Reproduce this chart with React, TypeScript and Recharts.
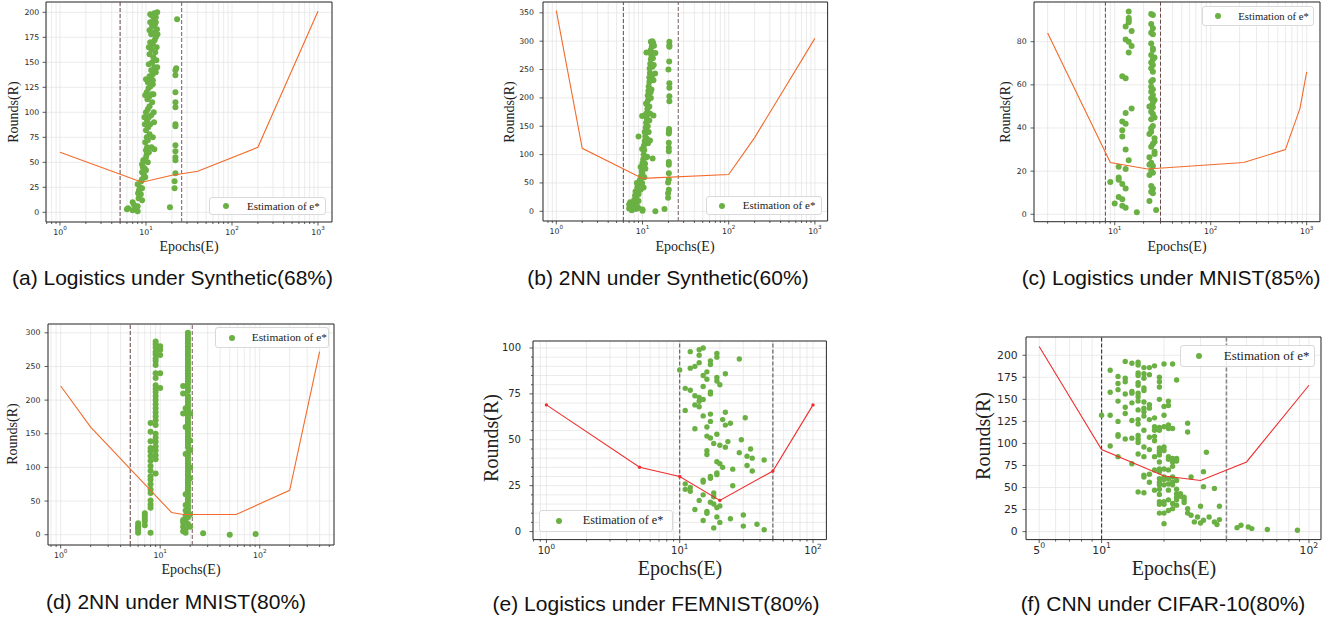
import React from 'react';
import { ComposedChart, Scatter, XAxis, YAxis, CartesianGrid, ReferenceLine, ReferenceArea } from 'recharts';

type Pair = [number, number];

// ---------------- data ----------------
// (a) Logistics under Synthetic(68%)
const aLineE = [1, 9, 20, 40, 200, 1000];
const aLineR = [60, 30, 37, 41, 65, 201];
const aBounds = [5, 26];
const aDots: Pair[] = [
  [6, 3], [6.2, 4], [7, 10], [7, 2], [7.3, 7], [7.6, 5], [8, 1], [8, 6], [8.1, 19], [8.2, 14], [8.3, 22], [8, 28],
  [8.5, 25], [8.7, 18], [8.8, 31], [9, 12], [9, 24], [9, 33], [9, 40], [9.2, 45], [9, 48], [9.5, 37], [9.3, 52],
  [9.6, 44], [9.8, 35], [10, 42], [10, 55], [10.2, 58], [10, 62], [10.5, 50], [10.3, 65], [10.8, 60], [9.8, 70],
  [10.2, 75], [10.5, 72], [11, 78], [10, 82], [10.6, 85], [11.2, 88], [10.3, 92], [10.8, 95], [11.5, 97], [10, 100],
  [10.5, 103], [11, 106], [11.8, 110], [10.4, 113], [11, 116], [11.6, 118], [10.2, 120], [10.7, 124], [11.3, 126],
  [12, 128], [10.5, 130], [11.5, 133], [10, 133], [12.3, 100], [12.4, 90], [12, 75], [11.6, 65], [9.6, 95], [9.7, 88],
  [9.8, 117], [12.2, 118], [12.5, 63], [11, 136], [12, 138], [13, 140], [11.5, 142], [12.5, 145], [10.8, 148],
  [11.8, 150], [13.2, 152], [12.2, 155], [11, 158], [12.8, 160], [11.5, 163], [13.3, 165], [12, 168], [11.2, 170],
  [12.6, 172], [13, 175], [11.5, 178], [12.2, 180], [13.4, 183], [11.8, 186], [12.7, 188], [11.2, 190], [12.3, 193],
  [13, 195], [11.6, 197], [12.5, 199], [13.5, 200], [11, 182], [13.5, 145], [10.8, 165], [13.6, 178], [12, 132],
  [11.2, 198], [13, 190],
  [23, 193], [22.5, 144], [22, 142], [22, 137], [22, 120], [22, 110], [22, 105], [22, 88], [22, 86], [22, 67],
  [22, 61], [22, 55], [22, 52], [22, 39], [21.5, 31], [21.5, 24], [19, 5],
];

// (b) 2NN under Synthetic(60%)
const bLineE = [1, 2, 10, 100, 200, 1000];
const bLineR = [354, 111, 58, 65, 130, 305];
const bBounds = [6, 26];
const bDots: Pair[] = [
  [7, 5], [7, 12], [7.2, 16], [7.5, 2], [7.8, 8], [8, 14], [8, 20], [8.2, 28], [8.4, 4], [8.3, 35], [8.5, 24],
  [8.7, 42], [8.6, 10], [9, 6], [9, 18], [9, 30], [9.2, 48], [9.3, 55], [9.5, 38], [9.6, 62], [9.8, 70], [9.5, 78],
  [10, 3], [10, 85], [10, 66], [10.2, 92], [10.3, 100], [10.5, 108], [10.4, 116], [10.6, 124], [10.8, 132],
  [10.6, 140], [10.9, 148], [11, 156], [11.2, 164], [11, 172], [11.4, 180], [11.3, 188], [11.6, 196], [11.5, 204],
  [11.7, 212], [11.8, 220], [12, 228], [12, 236], [12.2, 244], [12.1, 252], [12.3, 260], [12.5, 268], [12.6, 276],
  [12.4, 284], [12.8, 290], [12.9, 296], [12.5, 299], [13.3, 297], [13.6, 292], [13, 300], [9.9, 110], [10.7, 84],
  [11.3, 96], [11.6, 120], [11.8, 140], [12, 160], [12.3, 172], [12.5, 200], [12.7, 215], [12.9, 235], [13, 255],
  [13.2, 270], [11, 95], [11.5, 150], [12, 185], [12.4, 210], [12.9, 280], [13.5, 258], [10.5, 60], [10.8, 75],
  [11.2, 128], [10.3, 42], [9.9, 50], [11, 190], [12.2, 125], [12.6, 240],
  [9, 132], [9.9, 168], [13.4, 169], [14.1, 279], [13.4, 231], [14, 243], [13.1, 93], [8.6, 50], [10, 1], [14.1, 0],
  [18, 4], [11.1, 280],
  [20.5, 299], [20.5, 293], [20.5, 290], [20.4, 264], [20, 250], [20.5, 226], [20.5, 218], [20.5, 203], [20.5, 194],
  [20.3, 145], [20.3, 141], [20.2, 137], [20.2, 121], [20.2, 112], [20.2, 106], [20.2, 87], [20.2, 82], [20.2, 67],
  [20.2, 56], [19.8, 51], [20.2, 38], [19.8, 32], [19.8, 24],
];

// (c) Logistics under MNIST(85%)
const cLineE = [2, 9, 22, 220, 600, 850, 1000];
const cLineR = [84, 24, 21, 24, 30, 49, 66];
const cBounds = [8, 30];
const cDots: Pair[] = [
  [14, 94], [14, 91], [14, 90], [14, 89], [13, 87], [15, 85], [13, 81], [14, 80], [15, 78], [14, 75], [12, 64],
  [13, 63], [13, 47], [15, 49], [12, 43], [13, 42], [12, 39], [12, 36], [13, 30], [14, 25], [11, 22], [13, 21],
  [9, 15], [11, 17], [11, 16], [12, 14], [13, 12], [11, 8], [12, 7], [10, 5], [12, 4], [13, 3], [17, 1],
  [24, 92.8], [25, 92.4], [24, 88.2], [25, 86.2], [24, 84.2], [25, 83.4], [24, 79.2], [25, 76.9], [25, 76.1],
  [24, 73.8], [26, 72.7], [25, 71.8], [24, 70.3], [25, 69.2], [24, 67.7], [25, 66.1], [25, 62.2], [24, 61.5],
  [24, 59.1], [25, 57.9], [24, 56.8], [25, 55.3], [24, 53.8], [26, 53], [23, 50], [25, 51.7], [24, 50.2],
  [25, 49.6], [24, 47.5], [25, 46.5], [26, 44.9], [24, 44], [25, 40.9], [24, 39.9], [23, 37.2], [24, 38.3],
  [26, 35.2], [26, 33.6], [25, 32.6], [24, 31.3], [26, 29], [26, 27.9], [23, 26.4], [24, 23.9], [25, 22.4],
  [23, 23], [24, 20.2], [23, 18.2], [25, 19.3], [24, 13.1], [25, 12], [24, 10.5], [25, 9.7], [23, 6.2], [27, 2],
];

// (d) 2NN under MNIST(80%)
const dLineE = [1, 2, 13, 17, 58, 200, 400];
const dLineR = [221, 160, 33, 30, 30, 66, 272];
const dBounds = [5, 21];
const dDots: Pair[] = [
  [6, 17], [6, 13], [6, 10], [6, 7], [6, 3],
  [7, 32], [7, 28], [7, 24], [7, 20], [7, 14],
  [8, 166], [8, 153], [8, 139], [8, 129], [8, 124], [8, 117], [8, 110], [8, 102], [8, 95], [8, 87], [8, 82],
  [8, 75], [8, 67], [8, 62], [8, 51], [8, 45], [8, 40], [8, 3],
  [9, 287], [9, 283], [9, 278], [9, 272], [9, 268], [9, 262], [9, 258], [9, 252], [9, 240], [9, 233], [9, 222],
  [9, 217], [9, 212], [9, 206], [9, 200], [9, 194], [9, 188], [9, 182], [9, 176], [9, 170], [9, 163], [9, 150],
  [9, 144], [9, 138], [9, 131], [9, 125], [9, 118], [9, 112], [9, 91],
  [10, 280], [10, 275], [10, 267], [10, 240], [10, 218],
  [19, 300], [19, 296], [19, 292], [19, 288], [19, 284], [19, 280], [19, 276], [19, 272], [19, 268], [19, 264],
  [19, 260], [19, 256], [19, 252], [19, 248], [19, 244], [19, 240], [19, 236], [19, 232], [19, 228], [19, 224],
  [17, 221], [19, 218], [19, 214], [17, 210], [19, 206], [19, 202], [19, 198], [19, 194], [19, 190], [18, 188],
  [19, 186], [19, 182], [17, 180], [19, 178], [19, 174], [19, 170], [19, 166], [19, 162], [18, 160], [19, 158],
  [19, 154], [19, 150], [19, 146], [19, 142], [19, 138], [19, 134], [19, 130], [20, 126], [19, 122], [19, 118],
  [19, 114], [19, 110], [19, 106], [19, 102], [19, 98], [19, 94], [19, 90], [20, 84], [19, 86], [19, 82], [19, 78],
  [19, 74], [19, 70], [19, 66], [19, 62], [19, 58], [19, 54], [19, 50], [19, 46], [18, 44], [19, 42], [19, 38],
  [18, 36], [19, 34], [19, 30], [18, 28], [19, 26], [17, 22], [18, 20], [17, 18], [19, 16], [17, 12], [18, 8],
  [17, 5], [18, 3], [20, 100], [20, 180], [20, 140], [18, 120], [18, 60], [20, 30], [20, 12],
  [27, 2], [50, 0], [91, 1],
];

// (e) Logistics under FEMNIST(80%)
const eLineE = [1, 5, 10, 20, 50, 100];
const eLineR = [69, 35, 30, 17, 33, 69];
const eBounds = [10, 50];
const eDots: Pair[] = [
  [10, 88], [12, 98], [14, 99], [15, 100], [14, 96], [13, 90], [14, 92], [12, 89], [17, 93], [19, 97], [19, 95],
  [17, 91], [28, 94], [15, 85], [16, 87], [16, 83], [19, 84], [19, 82], [20, 80], [22, 86], [15, 79], [11, 78],
  [12, 77], [17, 76], [17, 75], [13, 74], [14, 73], [14, 71], [15, 72], [14, 68], [13, 69], [11, 66], [22, 65],
  [17, 64], [15, 63], [31, 62], [21, 61], [17, 60], [24, 59], [22, 58], [13, 56], [16, 57], [19, 53], [16, 52],
  [17, 51], [29, 50], [23, 49], [18, 48], [20, 47], [22, 46], [34, 45], [28, 43], [16, 44], [16, 42], [32, 41],
  [35, 40], [43, 39], [19, 38], [20, 37], [32, 36], [21, 35], [25, 34], [35, 33], [19, 32], [19, 31], [17, 30],
  [17, 29], [15, 28], [15, 27], [11, 26], [25, 25], [12, 24], [11, 23], [12, 22], [15, 20], [18, 21], [18, 19],
  [17, 16], [18, 15], [20, 14], [19, 13], [14, 17], [13, 12], [16, 11], [16, 10], [30, 9], [24, 7], [19, 8],
  [15, 6], [20, 5], [38, 4], [30, 3], [18, 2], [43, 1],
];

// (f) CNN under CIFAR-10(80%)
const fLineE = [5, 10, 20, 30, 50, 100];
const fLineR = [210, 93, 63, 58, 79, 166];
const fBounds = [10, 40];
const fDots: Pair[] = [
  [10, 132], [11, 183], [11, 158], [11, 132], [11, 97],
  [12, 148], [12, 168], [12, 176], [12, 161], [12, 125], [12, 110], [12, 108], [12, 85],
  [13, 193], [13, 174], [13, 170], [13, 156], [13, 141], [13, 134], [13, 105],
  [14, 191], [14, 159], [14, 157], [14, 146], [14, 126], [14, 106], [14, 77],
  [15, 192], [15, 189], [15, 180], [15, 177], [15, 169], [15, 166], [15, 157], [15, 153], [15, 148], [15, 138],
  [15, 127], [15, 122], [15, 109], [15, 105], [15, 101], [15, 88], [15, 45],
  [16, 186], [16, 179], [16, 174], [16, 163], [16, 160], [16, 147], [16, 140], [16, 136], [16, 131], [16, 115],
  [16, 96], [16, 85], [16, 64], [16, 62], [16, 44],
  [17, 186], [17, 178], [17, 144], [17, 140], [17, 127], [17, 107], [17, 93], [17, 65], [17, 56],
  [18, 188], [18, 129], [18, 119], [18, 115], [18, 108], [18, 103], [18, 85], [18, 70], [18, 47],
  [19, 175], [19, 170], [19, 164], [19, 150], [19, 118], [19, 115], [19, 95], [19, 92], [19, 89], [19, 87], [19, 79],
  [19, 71], [19, 68], [19, 60], [19, 56], [19, 53], [19, 48], [19, 42], [19, 34], [19, 31], [19, 21],
  [20, 190], [20, 142], [20, 132], [20, 119], [20, 96], [20, 92], [20, 71], [20, 62], [20, 59], [20, 53], [20, 34],
  [20, 31], [20, 21], [20, 9],
  [21, 148], [21, 143], [21, 121], [21, 117], [21, 85], [21, 82], [21, 70], [21, 60], [21, 54], [21, 47], [21, 36], [21, 24],
  [22, 190], [22, 117], [22, 83], [22, 79], [22, 74], [22, 62], [22, 56], [22, 53], [22, 32], [22, 26],
  [23, 172], [23, 83], [23, 80], [23, 58], [23, 48], [23, 43], [23, 39], [23, 36], [23, 30],
  [24, 43], [24, 40], [25, 39], [25, 36], [25, 33],
  [26, 123], [26, 113], [26, 26], [26, 21],
  [27, 62], [27, 18.5], [28, 11], [29, 16.6], [30, 28.7], [30, 9.8], [31, 68], [31, 51], [31, 12.8], [32, 90],
  [33, 16.6], [35, 49], [35, 11], [36, 8], [37, 28.7], [37, 13.6],
  [45, 4.5], [47, 7.2], [51, 5.3], [53, 3.4], [63, 2.3], [88, 1.5],
];

// ticks
const yTicksA = [0, 25, 50, 75, 100, 125, 150, 175, 200];
const yTicksB = [0, 50, 100, 150, 200, 250, 300, 350];
const yTicksC = [0, 20, 40, 60, 80];
const yTicksD = [0, 50, 100, 150, 200, 250, 300];
const yTicksE = [0, 25, 50, 75, 100];
const yMinorE = [5, 10, 15, 20, 30, 35, 40, 45, 55, 60, 65, 70, 80, 85, 90, 95];
const yTicksF = [0, 25, 50, 75, 100, 125, 150, 175, 200];
const minor1 = [2, 3, 4, 5, 6, 7, 8, 9];
const minor10 = [20, 30, 40, 50, 60, 70, 80, 90];
const minor100 = [200, 300, 400, 500, 600, 700, 800, 900];

const GREEN = '#6ab043';
const ORANGE = '#f26b2c';
const RED = '#f02d2d';
const TICK_FONT = "'DejaVu Sans', sans-serif";
const SERIF = "'Liberation Serif', 'DejaVu Serif', serif";
const SANS = "'Liberation Sans', Arial, sans-serif";

const toPts = (arr: Pair[]) => arr.map(([x, y]) => ({ x, y }));
const lineOf = (E: number[], R: number[]) => E.map((x, i) => ({ x, y: R[i] }));

interface Cfg {
  plot: [number, number, number, number];
  xDomain: [number, number];
  yDomain: [number, number];
  xMajor: number[];
  xMinor: number[];
  yMajor: number[];
  yMinor: number[];
  dots: Pair[];
  lineE: number[];
  lineR: number[];
  lineColor: string;
  lineDots: boolean;
  bounds: number[];
  boundColors: string[];
  boundWidths: number[];
  dotR: number;
  tickFont: number;
  yGap: number;
  xLabOff: number;
  majLen: number;
  minLen: number;
  titleFont: number;
  yTitle: [number, number];
  xTitle: [number, number];
  legend: { left: number; top: number; width: number; height: number; dotX: number; textX: number; font: number };
  caption: string;
  capPos: [number, number];
}

const small = { tickFont: 7.8, xLabOff: 9.7, majLen: 3.5, minLen: 2, titleFont: 14, dotR: 3 };
const big = { tickFont: 10.4, xLabOff: 10.7, majLen: 3.5, minLen: 2, titleFont: 20, dotR: 2.7 };

const panels: Cfg[] = [
  {
    ...small,
    plot: [46, 2, 332, 222], xDomain: [0.6877, 1455], yDomain: [-9.7, 210.3],
    xMajor: [1, 10, 100, 1000], xMinor: [0.7, 0.8, 0.9, ...minor1, ...minor10, ...minor100],
    yMajor: yTicksA, yMinor: [], dots: aDots, lineE: aLineE, lineR: aLineR, lineColor: ORANGE, lineDots: false,
    bounds: aBounds, boundColors: ['#6b4848', '#7a5a5a'], boundWidths: [1, 1], yGap: 6.7,
    yTitle: [14, 112], xTitle: [189, 247],
    legend: { left: 209, top: 197, width: 117, height: 18, dotX: 16, textX: 37, font: 11 },
    caption: '(a) Logistics under Synthetic(68%)', capPos: [172.5, 277],
  },
  {
    ...small,
    plot: [542.7, 2, 827.3, 221], xDomain: [0.701, 1404], yDomain: [-17.1, 369.1],
    xMajor: [1, 10, 100, 1000], xMinor: [0.8, 0.9, ...minor1, ...minor10, ...minor100],
    yMajor: yTicksB, yMinor: [], dots: bDots, lineE: bLineE, lineR: bLineR, lineColor: ORANGE, lineDots: false,
    bounds: bBounds, boundColors: ['#6b4848', '#7a5a5a'], boundWidths: [1, 1], yGap: 9,
    yTitle: [510, 111.5], xTitle: [685, 247],
    legend: { left: 705.7, top: 196, width: 116, height: 19, dotX: 15.3, textX: 36, font: 11 },
    caption: '(b) 2NN under Synthetic(60%)', capPos: [668, 277],
  },
  {
    ...small,
    plot: [1034, 2, 1320, 221.7], xDomain: [1.443, 1376], yDomain: [-3.43, 98.4],
    xMajor: [10, 100, 1000], xMinor: [...minor1, ...minor10, ...minor100],
    yMajor: yTicksC, yMinor: [], dots: cDots, lineE: cLineE, lineR: cLineR, lineColor: ORANGE, lineDots: false,
    bounds: cBounds, boundColors: ['#6b4848', '#6b4848'], boundWidths: [1, 1], yGap: 7.3, dotR: 3,
    yTitle: [1006, 112], xTitle: [1177, 247],
    legend: { left: 1201.7, top: 6, width: 112.3, height: 20, dotX: 15.6, textX: 35.6, font: 10.7 },
    caption: '(c) Logistics under MNIST(85%)', capPos: [1171, 277],
  },
  {
    ...small,
    plot: [48.3, 324, 334.3, 545], xDomain: [0.7455, 558], yDomain: [-15.3, 313.1],
    xMajor: [1, 10, 100], xMinor: [0.8, 0.9, ...minor1, ...minor10, 200, 300, 400, 500],
    yMajor: yTicksD, yMinor: [], dots: dDots, lineE: dLineE, lineR: dLineR, lineColor: ORANGE, lineDots: false,
    bounds: dBounds, boundColors: ['#6b4848', '#7a5a5a'], boundWidths: [1, 1], yGap: 7.6,
    yTitle: [13, 434], xTitle: [191, 570],
    legend: { left: 215, top: 327.3, width: 114.3, height: 21, dotX: 15.7, textX: 35.7, font: 11.4 },
    caption: '(d) 2NN under MNIST(80%)', capPos: [176, 601],
  },
  {
    ...big,
    plot: [533.3, 340.7, 826.7, 539.3], xDomain: [0.7934, 126], yDomain: [-4.36, 103.8],
    xMajor: [1, 10, 100], xMinor: [0.8, 0.9, ...minor1, ...minor10],
    yMajor: yTicksE, yMinor: yMinorE, dots: eDots, lineE: eLineE, lineR: eLineR, lineColor: RED, lineDots: true,
    bounds: eBounds, boundColors: ['#555', '#555'], boundWidths: [1.1, 1.1], yGap: 12, tickFont: 10,
    yTitle: [491, 438], xTitle: [680, 568],
    legend: { left: 539.3, top: 510, width: 134, height: 21.7, dotX: 18.4, textX: 42.4, font: 12.2 },
    caption: '(e) Logistics under FEMNIST(80%)', capPos: [656, 603],
  },
  {
    ...big,
    plot: [1025.7, 336.7, 1320.7, 539.3], xDomain: [4.319, 114.3], yDomain: [-9.07, 220.7],
    xMajor: [5, 10, 100], xMinor: [6, 7, 8, 9, ...minor10],
    yMajor: yTicksF, yMinor: [], dots: fDots, lineE: fLineE, lineR: fLineR, lineColor: RED, lineDots: false,
    bounds: fBounds, boundColors: ['#333', '#888'], boundWidths: [1.1, 1.6], yGap: 8.4, tickFont: 10.8, dotR: 2.7,
    yTitle: [983, 436], xTitle: [1174, 568],
    legend: { left: 1180, top: 345, width: 135, height: 21.7, dotX: 18.3, textX: 42.7, font: 13 },
    caption: '(f) CNN under CIFAR-10(80%)', capPos: [1163, 603],
  },
];

function Panel({ cfg }: { cfg: Cfg }) {
  const [x0, y0, x1, y1] = cfg.plot;
  const YW = 60, MT = 4, MR = 4, XH = 32;
  const w = x1 - x0 + YW + MR;
  const h = y1 - y0 + MT + XH;
  const xTicks = [...cfg.xMajor, ...cfg.xMinor].sort((a, b) => a - b);
  const yTicks = [...cfg.yMajor, ...cfg.yMinor].sort((a, b) => a - b);
  const fs = cfg.tickFont;
  const tickColor = '#2a2a2a';

  const XTick = (props: any) => {
    const { x, y, payload } = props;
    const v = payload.value;
    const major = cfg.xMajor.indexOf(v) >= 0;
    const len = major ? cfg.majLen : cfg.minLen;
    let label: any = null;
    if (major) {
      const base = v === 5 ? '5' : '10';
      const exp = v === 5 ? '0' : String(Math.round(Math.log10(v)));
      label = (
        <text x={x} y={y + cfg.xLabOff} textAnchor="middle" dominantBaseline="central" fontSize={fs} fontFamily={TICK_FONT} fill={tickColor}>
          <tspan>{base}</tspan>
          <tspan dy={-fs * 0.45} fontSize={fs * 0.72}>{exp}</tspan>
        </text>
      );
    }
    return (
      <g>
        <line x1={x} x2={x} y1={y} y2={y + len} stroke="#333" strokeWidth={0.8} />
        {label}
      </g>
    );
  };

  const YTick = (props: any) => {
    const { x, y, payload } = props;
    const v = payload.value;
    const major = cfg.yMajor.indexOf(v) >= 0;
    const len = major ? cfg.majLen : cfg.minLen;
    return (
      <g>
        <line x1={x - len} x2={x} y1={y} y2={y} stroke="#333" strokeWidth={0.8} />
        {major && (
          <text x={x - cfg.yGap} y={y} textAnchor="end" dominantBaseline="central" fontSize={fs} fontFamily={TICK_FONT} fill={tickColor}>
            {v}
          </text>
        )}
      </g>
    );
  };

  const dotShape = (p: any) => <circle cx={p.cx} cy={p.cy} r={cfg.dotR} fill={GREEN} />;
  const lineShape = (p: any) => (cfg.lineDots ? <circle cx={p.cx} cy={p.cy} r={1.7} fill={cfg.lineColor} /> : <g />);
  const lg = cfg.legend;

  return (
    <>
      <div style={{ position: 'absolute', left: x0 - YW, top: y0 - MT }}>
        <ComposedChart width={w} height={h} margin={{ top: MT, right: MR, bottom: 0, left: 0 }}>
          <CartesianGrid stroke="#e2e2e2" strokeWidth={0.7} />
          <XAxis
            dataKey="x" type="number" scale="log" domain={cfg.xDomain} allowDataOverflow ticks={xTicks} interval={0}
            height={XH} tickSize={0} tickMargin={0} tickLine={false} axisLine={false} tick={XTick}
          />
          <YAxis
            dataKey="y" type="number" domain={cfg.yDomain} allowDataOverflow ticks={yTicks} interval={0}
            width={YW} tickSize={0} tickMargin={0} tickLine={false} axisLine={false} tick={YTick}
          />
          <Scatter data={toPts(cfg.dots)} fill={GREEN} shape={dotShape} isAnimationActive={false} />
          <Scatter
            data={lineOf(cfg.lineE, cfg.lineR)} fill={cfg.lineColor} line={{ stroke: cfg.lineColor, strokeWidth: 1.1 }}
            lineType="joint" shape={lineShape} isAnimationActive={false}
          />
          {cfg.bounds.map((b, i) => (
            <ReferenceLine key={i} x={b} stroke={cfg.boundColors[i]} strokeWidth={cfg.boundWidths[i]} strokeDasharray="4 2" />
          ))}
          <ReferenceArea
            x1={cfg.xDomain[0]} x2={cfg.xDomain[1]} y1={cfg.yDomain[0]} y2={cfg.yDomain[1]}
            fill="none" fillOpacity={0} stroke="#2b2b2b" strokeWidth={1} ifOverflow="visible"
          />
        </ComposedChart>
      </div>
      <div
        style={{
          position: 'absolute', left: lg.left, top: lg.top, width: lg.width, height: lg.height, boxSizing: 'border-box',
          border: '1px solid #d9d9d9', borderRadius: 3, background: 'rgba(255,255,255,0.85)',
        }}
      >
        <div
          style={{
            position: 'absolute', left: lg.dotX - 3, top: (lg.height - 2) / 2 - 3, width: 6, height: 6,
            borderRadius: '50%', background: GREEN,
          }}
        />
        <div
          style={{
            position: 'absolute', left: lg.textX, top: 0, lineHeight: `${lg.height - 2}px`, fontFamily: SERIF,
            fontSize: lg.font, whiteSpace: 'nowrap', color: '#222',
          }}
        >
          Estimation of e*
        </div>
      </div>
      <div
        style={{
          position: 'absolute', left: cfg.yTitle[0], top: cfg.yTitle[1], transform: 'translate(-50%, -50%) rotate(-90deg)',
          fontFamily: SERIF, fontSize: cfg.titleFont, whiteSpace: 'nowrap', color: '#222', lineHeight: 1,
        }}
      >
        Rounds(R)
      </div>
      <div
        style={{
          position: 'absolute', left: cfg.xTitle[0], top: cfg.xTitle[1], transform: 'translate(-50%, -50%)',
          fontFamily: SERIF, fontSize: cfg.titleFont, whiteSpace: 'nowrap', color: '#222', lineHeight: 1,
        }}
      >
        Epochs(E)
      </div>
      <div
        style={{
          position: 'absolute', left: cfg.capPos[0], top: cfg.capPos[1], transform: 'translate(-50%, -50%)',
          fontFamily: SANS, fontSize: 21, whiteSpace: 'nowrap', color: '#111', lineHeight: 1,
        }}
      >
        {cfg.caption}
      </div>
    </>
  );
}

export default function App() {
  return (
    <div style={{ position: 'absolute', left: 0, top: 0, width: 1338, height: 617, background: '#fff', overflow: 'hidden' }}>
      {panels.map((p, i) => (
        <Panel key={i} cfg={p} />
      ))}
    </div>
  );
}
